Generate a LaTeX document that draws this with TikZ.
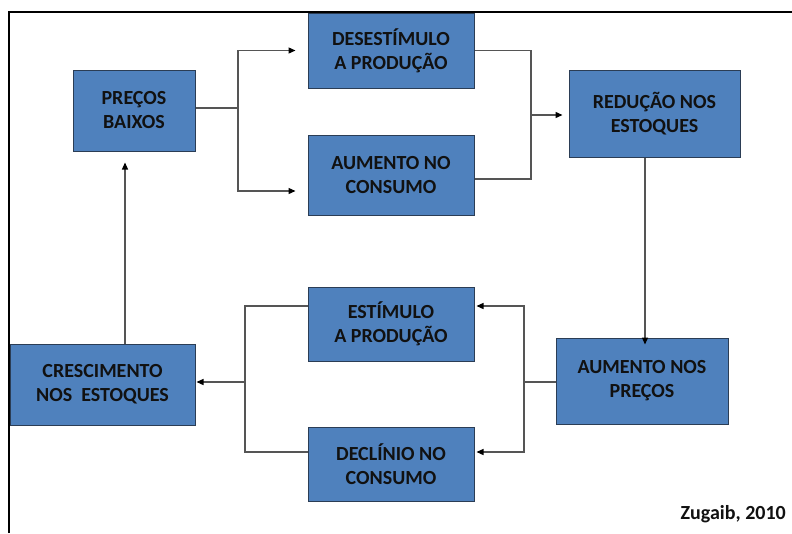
\documentclass[tikz,border=0pt]{standalone}
\usepackage{fontspec}
\setmainfont{Carlito}
\usetikzlibrary{arrows.meta}
\definecolor{boxfill}{HTML}{4F81BD}
\definecolor{boxdraw}{HTML}{2B3D55}
\definecolor{linec}{HTML}{555555}
\definecolor{txt}{HTML}{111111}
\begin{document}
\begin{tikzpicture}[x=1pt,y=-1pt,
  box/.style={draw=boxdraw,line width=1pt,fill=boxfill,align=center,inner sep=0pt,
    font=\fontsize{20}{24}\selectfont\bfseries,text=txt},
  conn/.style={draw=linec,line width=1.3pt},
  arr/.style={conn,-{Triangle[length=7pt,width=6pt]},arrows={[color=black]}}]
\useasboundingbox (0,0) rectangle (792,533);
\fill[white] (0,0) rectangle (792,533);
\draw[black,line width=1.6pt] (9,533) -- (9,12) -- (792,12);
\node[box,minimum width=122pt,minimum height=81pt] (pb) at (134,110.5) {PREÇOS\\BAIXOS};
\node[box,minimum width=166pt,minimum height=75pt] (des) at (391,50.5) {DESESTÍMULO\\A PRODUÇÃO};
\node[box,minimum width=166pt,minimum height=80pt] (ac) at (391,175) {AUMENTO NO\\CONSUMO};
\node[box,minimum width=171pt,minimum height=87pt] (red) at (654.5,113.5) {REDUÇÃO NOS\\ESTOQUES};
\node[box,minimum width=172pt,minimum height=86pt] (ap) at (642,381) {AUMENTO NOS\\PREÇOS};
\node[box,minimum width=166pt,minimum height=74pt] (est) at (391,324) {ESTÍMULO\\A PRODUÇÃO};
\node[box,minimum width=166pt,minimum height=74pt] (dec) at (391,464) {DECLÍNIO NO\\CONSUMO};
\node[box,minimum width=185pt,minimum height=81pt] (cre) at (102.5,384.5) {CRESCIMENTO\\NOS\ \ ESTOQUES};
\node[font=\fontsize{20}{24}\selectfont\bfseries,text=txt,anchor=east,inner sep=0pt] (src) at (786,514) {Zugaib, 2010};
% top branch
\coordinate (j1) at (238,108);
\draw[conn] (pb.east |- j1) -- (j1);
\draw[arr] (j1) |- ([xshift=-12pt]des.west);
\draw[arr] (j1) |- ([xshift=-12pt,yshift=-16pt]ac.west);
% merge to reduction
\coordinate (j2) at (531,115);
\draw[conn] (des.east) -| (j2) |- ([yshift=-4pt]ac.east);
\draw[arr] (j2) -- ([xshift=-6pt]red.west |- j2);
% down to price increase
\coordinate (r1) at (645,157);
\draw[arr] (r1 |- red.south) -- ([yshift=-7pt]r1 |- ap.north);
% bottom right branch
\coordinate (j3) at (524,382);
\draw[conn] (ap.west |- j3) -- (j3);
\draw[arr] (j3) |- ([xshift=2pt,yshift=18pt]est.east);
\draw[arr] (j3) |- ([xshift=2pt,yshift=12pt]dec.east);
% bottom left merge
\coordinate (j4) at (245,382);
\draw[conn] ([yshift=18pt]est.west) -| (j4) |- ([yshift=12pt]dec.west);
\draw[arr] (j4) -- ([xshift=1pt]cre.east |- j4);
% up to low prices
\coordinate (c1) at (125,344);
\draw[arr] (c1 |- cre.north) -- ([yshift=-11pt]c1 |- pb.south);
\end{tikzpicture}
\end{document}
